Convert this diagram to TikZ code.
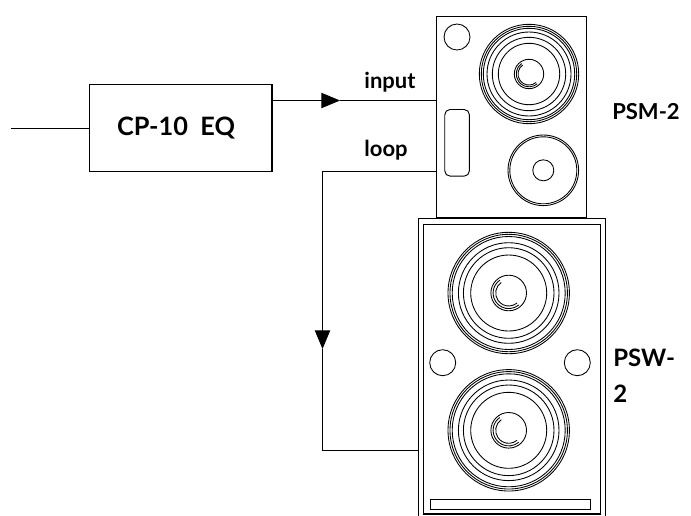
\documentclass[tikz,border=0pt]{standalone}
\usepackage{fontspec}
\setmainfont{Lato}
\usetikzlibrary{positioning, arrows.meta}

\begin{document}
\begin{tikzpicture}[x=0.75pt, y=-0.75pt]
	% Style
	\tikzset{
		box/.style={draw, line width=1.1pt, inner sep=0pt, anchor=north west},
		label/.style={font=\bfseries\fontsize{16.5}{21}\selectfont, inner sep=0pt, align=left},
		wire/.style={line width=0.7pt},
		arrow/.style={-{Triangle[length=14pt, width=11.5pt]}, line width=0.7pt},
		ring/.style={line width=0.65pt}
	}
	\useasboundingbox (0, 0) rectangle (691, 515);

	% EQ box
	\node[box, minimum width=137pt, minimum height=65pt] (EQ) at (88.5, 84) {};
	\node[label, font=\bfseries\fontsize{19}{23}\selectfont] (EQ_Label) at (176, 128) {CP-10\ \ EQ};
	\coordinate (InputEnd) at ([xshift=-58.5pt]EQ.west);

	% PSM-2 cabinet
	\node[box, minimum width=112.5pt, minimum height=151pt] (PSM) at (435.5, 15.7) {};
	\node[box, rounded corners=4pt, line width=0.7pt, minimum width=18.5pt, minimum height=50pt] (Port) at (444.3, 109) {};
	\node[label] (PSM_Label) at (646, 112) {PSM-2};

	% PSW-2 cabinet
	\node[box, line width=1pt, minimum width=140pt, minimum height=225pt] (PSW) at (418, 218) {};
	\node[box, line width=1pt, minimum width=133pt, minimum height=217pt] (PSW_Inner) at (422.7, 224) {};
	\node[box, line width=0.7pt, minimum width=120pt, minimum height=7.5pt] (Slot) at (430, 499) {};
	\node[label, font=\bfseries\fontsize{18}{27}\selectfont, anchor=north west] (PSW_Label) at (613, 349) {PSW-\\2};

	% Small round ports
	\foreach \px/\py in {457/37, 442.7/362.7, 577.3/362.7}
		\draw[ring] (\px, \py) circle [radius=13*0.75pt];

	% Woofer of PSM-2
	\foreach \r in {49.7, 47.7, 45.7, 42, 36.7, 30.7, 14.7}
		\draw[ring] (529, 74) circle [radius=\r*0.75pt];
	\foreach \r in {12.8, 11}
		\draw[ring] (529, 74) ++(125:\r*0.75pt) arc [start angle=125, end angle=310, radius=\r*0.75pt];

	% Tweeter of PSM-2
	\foreach \r in {35.3, 33.5, 10.5}
		\draw[ring] (543.3, 170.3) circle [radius=\r*0.75pt];

	% Woofers of PSW-2
	\foreach \wy in {293, 430.3} {
		\foreach \r in {60.7, 58.7, 56.5, 50.3, 45.3, 38, 17.8}
			\draw[ring] (508.7, \wy) circle [radius=\r*0.75pt];
		\foreach \r in {15.6, 13}
			\draw[ring] (508.7, \wy) ++(125:\r*0.75pt) arc [start angle=125, end angle=310, radius=\r*0.75pt];
	}

	% Connection points on the cabinets
	\coordinate (InputPort) at (435.5, 100.5);
	\coordinate (LoopPort) at (435.5, 171.5);
	\coordinate (LoopCorner) at (322.5, 171.5);
	\coordinate (LoopBottom) at (322.5, 450.5);
	\coordinate (ReturnPort) at (418, 450.5);
	\coordinate (InputTip) at (340, 100.5);
	\coordinate (LoopTip) at (322.5, 349);

	% Labels of the wires
	\node[label] (Input_Label) at (390, 82) {input};
	\node[label] (Loop_Label) at (386, 150) {loop};

	% Wires
	\draw[wire] (InputEnd) -- (EQ.west);
	\draw[arrow] (EQ.east |- InputPort) -- (InputTip);
	\draw[wire] (InputTip) -- (InputPort);
	\draw[arrow] (LoopPort) -- (LoopCorner) -- (LoopTip);
	\draw[wire] (LoopTip) -- (LoopBottom) -- (ReturnPort);
\end{tikzpicture}
\end{document}
